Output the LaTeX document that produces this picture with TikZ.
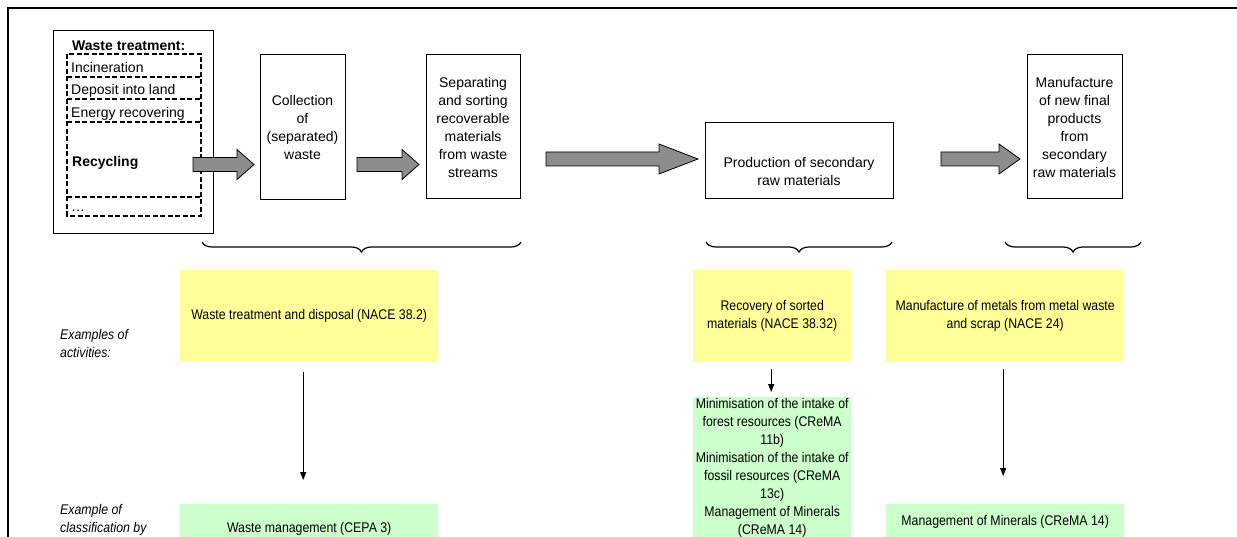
\documentclass[tikz,border=0pt]{standalone}
\usepackage{fontspec}
\setmainfont{Liberation Sans}
\newfontfamily\narrowfont{Liberation Sans}[FakeStretch=0.88]
\usetikzlibrary{arrows.meta,decorations.pathreplacing}
\definecolor{yellowbox}{HTML}{FFFF99}
\definecolor{greenbox}{HTML}{CCFFCC}
\definecolor{arrowgray}{HTML}{8C8C8C}
\newcommand\blockarr[4]{\draw[blockarrow] (#1,#4-7) -- (#2,#4-7) -- (#2,#4-15) -- (#3,#4) -- (#2,#4+15) -- (#2,#4+7) -- (#1,#4+7) -- cycle;}
\begin{document}
\begin{tikzpicture}[x=1pt,y=-1pt,
  box/.style={draw,line width=1.4pt,inner sep=0pt,anchor=north west},
  toptext/.style={font=\fontsize{14}{18}\selectfont,align=center,inner sep=0pt},
  bottext/.style={font=\narrowfont\fontsize{14}{18}\selectfont,align=center,inner sep=0pt,anchor=north west},
  itemtext/.style={font=\fontsize{14}{18}\selectfont,anchor=base west,inner sep=0pt},
  sidetext/.style={font=\narrowfont\itshape\fontsize{14}{18}\selectfont,align=left,anchor=west,inner sep=0pt},
  yel/.style={bottext,fill=yellowbox,draw=none},
  grn/.style={bottext,fill=greenbox,draw=none},
  blockarrow/.style={fill=arrowgray,draw=black,line width=0.8pt,line join=miter},
  thinarrow/.style={line width=1.2pt,-{Triangle[length=8pt,width=6pt]}},
  bracedeco/.style={decorate,decoration={brace,amplitude=10pt,mirror},line width=1.2pt},
  dashline/.style={dash pattern=on 5pt off 2.5pt,line width=1.2pt}
]
\fill[white] (0,0) rectangle (1237,537);
\useasboundingbox (0,0) rectangle (1237,537);

% outer frame
\draw[line width=2pt] (8,537) -- (8,8) -- (1237,8);

% waste treatment box
\node[box,minimum width=160pt,minimum height=203pt] (wt) at (53,30) {};
\node[font=\bfseries\fontsize{14}{18}\selectfont,anchor=base west,inner sep=0pt] (wtt) at (72,51) {Waste treatment:};
\draw[dashline] (67,54) rectangle (201,216);
\draw[dashline] (67,77) -- (201,77);
\draw[dashline] (67,99) -- (201,99);
\draw[dashline] (67,122) -- (201,122);
\draw[dashline] (67,197) -- (201,197);
\node[itemtext] (i1) at (71,73) {Incineration};
\node[itemtext] (i2) at (71,95) {Deposit into land};
\node[itemtext] (i3) at (71,118) {Energy recovering};
\node[itemtext,font=\bfseries\fontsize{14}{18}\selectfont] (i4) at (72,167) {Recycling};
\node[itemtext] (i5) at (71,212) {…};

% process boxes
\node[box,minimum width=85pt,minimum height=145pt] (coll) at (260,54) {};
\node[toptext] (collt) at (302.5,127) {Collection\\of\\(separated)\\waste};
\node[box,minimum width=94pt,minimum height=144pt] (sep) at (426,54) {};
\node[toptext] (sept) at (473,127.5) {Separating\\and sorting\\recoverable\\materials\\from waste\\streams};
\node[box,minimum width=188pt,minimum height=76pt] (prod) at (705,122) {};
\node[toptext] (prodt) at (799,171) {Production of secondary\\raw materials};
\node[box,minimum width=95pt,minimum height=144pt] (manu) at (1027,54) {};
\node[toptext] (manut) at (1074.5,127.5) {Manufacture\\of new final\\products\\from\\secondary\\raw materials};

% block arrows
\blockarr{193}{237}{254}{164.5}
\blockarr{357}{402}{419}{164.5}
\blockarr{546}{659}{698}{159}
\blockarr{941}{999}{1020}{159}

% braces
\coordinate (b1a) at (202,242); \coordinate (b1b) at (521,242);
\coordinate (b2a) at (706,242); \coordinate (b2b) at (892,242);
\coordinate (b3a) at (1005,242); \coordinate (b3b) at (1141,242);
\draw[bracedeco] (b1a) -- (b1b);
\draw[bracedeco] (b2a) -- (b2b);
\draw[bracedeco] (b3a) -- (b3b);

% activities
\node[sidetext] (lab1) at (60,343) {Examples of\\activities:};
\node[yel,minimum width=258pt,minimum height=92pt] (ya) at (180,270) {Waste treatment and disposal (NACE 38.2)};
\node[yel,minimum width=158pt,minimum height=92pt] (yb) at (693,270) {Recovery of sorted\\materials (NACE 38.32)};
\node[yel,minimum width=238pt,minimum height=92pt] (yc) at (886,270) {Manufacture of metals from metal waste\\and scrap (NACE 24)};

% classification
\node[sidetext] (lab2) at (60,520) {Example of\\classification by};
\node[grn,minimum width=258pt,minimum height=50pt] (ga) at (180,504) {Waste management (CEPA 3)};
\node[grn,minimum width=158pt,minimum height=142pt] (gb) at (693,397) {Minimisation of the intake of\\forest resources (CReMA\\11b)\\Minimisation of the intake of\\fossil resources (CReMA\\13c)\\Management of Minerals\\(CReMA 14)};
\node[grn,minimum width=238pt,minimum height=36pt] (gc) at (886,504) {Management of Minerals (CReMA 14)};

% thin arrows
\draw[thinarrow] ([xshift=-6pt,yshift=-10pt]ya.south) -- ([xshift=-6pt,yshift=24pt]ga.north);
\draw[thinarrow] ([xshift=-1pt,yshift=-7pt]yb.south) -- ([xshift=-1pt,yshift=5pt]gb.north);
\draw[thinarrow] ([xshift=-2pt,yshift=-7pt]yc.south) -- ([xshift=-2pt,yshift=28pt]gc.north);
\end{tikzpicture}
\end{document}
